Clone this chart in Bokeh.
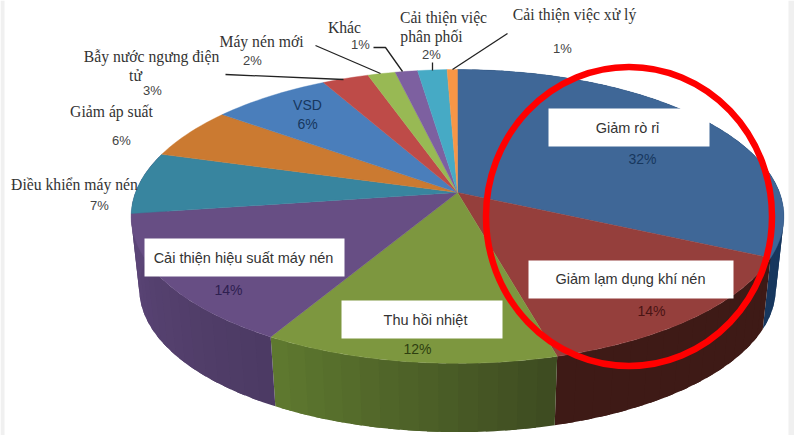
import math
from bokeh.plotting import figure
from bokeh.models import Range1d
from bokeh.core.properties import value
from bokeh.embed import file_html
from bokeh.resources import INLINE

# --- data ---
categories = ["Giảm rò rỉ", "Giảm lạm dụng khí nén", "Thu hồi nhiệt",
              "Cải thiện hiệu suất máy nén", "Điều khiển máy nén", "Giảm áp suất",
              "VSD", "Bẫy nước ngưng điện tử", "Máy nén mới", "Khác",
              "Cải thiện việc phân phối", "Cải thiện việc xử lý"]
# slice sizes estimated from the drawn angles (the printed labels are rounded)
shares = [32, 13.8, 12.5, 14.4, 6.8, 5.7, 6.9, 2.7, 1.6, 1.3, 1.7, 0.6]

# --- styles ---
top_colors = ["#3F6797", "#953F3C", "#7D973F", "#674E84", "#38859F", "#CB7A31",
              "#4A7EBB", "#BE4B48", "#98B954", "#7D60A0", "#46AAC5", "#F79646"]
wall_from = {0: "#17375E", 1: "#3E1A16", 2: "#3D4A20", 3: "#4C3A63", 4: "#5B4577"}
wall_to = {0: "#17375E", 1: "#3E1A16", 2: "#5F7A30", 3: "#5B4577", 4: "#5B4577"}

# --- projection of the pie ---
CX, CY, A, B, K = 457, 192, 322, 143, 0.163
DROP, S = 73, 0.975


def top_point(deg):
    t = math.radians(deg)
    sx, fy = math.sin(t), -math.cos(t)
    d = 1 - K * fy
    return CX + A * sx / d, CY + B * fy / d


def bottom_point(deg):
    x, y = top_point(deg)
    return CX + S * (x - CX), CY + DROP + S * (y - CY)


def mix(c1, c2, f):
    a = [int(c1[i:i + 2], 16) for i in (1, 3, 5)]
    b = [int(c2[i:i + 2], 16) for i in (1, 3, 5)]
    return "#%02X%02X%02X" % tuple(round(u + (v - u) * f) for u, v in zip(a, b))


p = figure(width=794, height=435, output_backend="svg", toolbar_location=None,
           x_range=Range1d(0, 794), y_range=Range1d(435, 0),
           min_border=0, outline_line_color=None, background_fill_color="white")
p.axis.visible = False
p.grid.visible = False

# walls
total = sum(shares)
edges = [0]
for s in shares:
    edges.append(edges[-1] + s * 360 / total)

wx, wy, wc = [], [], []
for i in wall_from:
    a0, a1 = edges[i], edges[i + 1]
    n = max(4, int((a1 - a0) / 3))
    for j in range(n):
        u0 = a0 + (a1 - a0) * j / n
        # each strip reaches into the next one, so that no seam shows
        u1 = min(a1, a0 + (a1 - a0) * (j + 1.6) / n)
        steps = [u0 + (u1 - u0) * k / 4 for k in range(5)]
        pts = [top_point(u) for u in steps] + [bottom_point(u) for u in reversed(steps)]
        wx.append([q[0] for q in pts])
        wy.append([q[1] for q in pts])
        wc.append(mix(wall_from[i], wall_to[i], (j + 0.5) / n))
p.patches(wx, wy, fill_color=wc, line_color=None)

# top faces
tx, ty = [], []
for i in range(len(shares)):
    a0, a1 = edges[i], edges[i + 1]
    n = max(4, int((a1 - a0) / 1.5))
    pts = [top_point(a0 + (a1 - a0) * j / n) for j in range(n + 1)]
    tx.append([CX] + [q[0] for q in pts])
    ty.append([CY] + [q[1] for q in pts])
p.patches(tx, ty, fill_color=top_colors, line_color=top_colors, line_width=0.4)

# leader lines
leaders = [([225, 343], [74, 79]), ([315, 380], [45, 73]), ([373, 385, 402], [47, 47, 71]),
           ([432, 432], [62, 70]), ([507, 452], [33, 69])]
p.multi_line([l[0] for l in leaders], [l[1] for l in leaders], line_color="#222222", line_width=1.3)

# white label boxes
boxes = [(548, 709, 108, 146), (528, 733, 260, 298), (341, 502, 300, 338), (144, 344, 238, 276)]
p.quad(left=[b[0] for b in boxes], right=[b[1] for b in boxes], top=[b[2] for b in boxes],
       bottom=[b[3] for b in boxes], fill_color="white", line_color=None)

# red circle
p.ellipse(x=[628.5], y=[216], width=[286], height=[299], fill_color=None,
          line_color="#FF0000", line_width=6.5)

# strips at the edges of the picture
p.quad(left=[0, 788], right=[4, 794], top=[0, 0], bottom=[435, 435], fill_color="#F0F0F0", line_color=None)


def labels(items, font, size, color, style="normal"):
    p.text([i[1] for i in items], [i[2] for i in items], text=[i[0] for i in items],
           text_font=value(font), text_font_size=size, text_color=color, text_align="center",
           text_baseline="middle", text_font_style=style)


labels([("Cải thiện việc xử lý", 574, 14), ("Cải thiện việc", 443, 17), ("phân phối", 431, 36),
        ("Khác", 344, 27), ("Máy nén mới", 261, 41), ("Bẫy nước ngưng điện", 151, 56), ("tử", 135, 75),
        ("Giảm áp suất", 111, 111), ("Điều khiển máy nén", 74, 184)],
       "Liberation Serif", "15.7px", "#333333")
labels([("1%", 562, 48), ("2%", 431, 54), ("1%", 360, 44), ("2%", 252, 60), ("3%", 152, 90),
        ("6%", 121, 140), ("7%", 99, 205)], "Liberation Sans", "13px", "#444444")
labels([("Giảm rò rỉ", 627, 127), ("Giảm lạm dụng khí nén", 630, 278), ("Thu hồi nhiệt", 425, 319),
        ("Cải thiện hiệu suất máy nén", 243, 257)], "Liberation Sans", "14.5px", "#333333")
labels([("VSD", 307, 104), ("6%", 307, 123), ("32%", 642, 158)], "Liberation Sans", "14px", "#17375E")
labels([("14%", 651, 310)], "Liberation Sans", "14px", "#4A1414")
labels([("12%", 417, 348)], "Liberation Sans", "14px", "#2E3F10")
labels([("14%", 228, 289)], "Liberation Sans", "14px", "#2E2050")

open("out.html", "w").write(file_html(p, INLINE))
